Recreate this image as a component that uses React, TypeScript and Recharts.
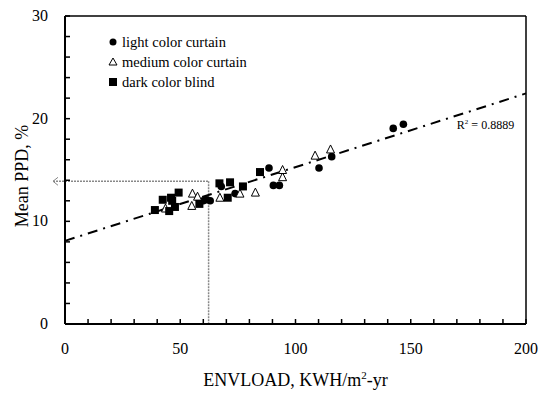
import {
  ScatterChart,
  Scatter,
  XAxis,
  YAxis,
  ReferenceLine,
  ReferenceDot,
  Legend,
} from "recharts";

// ENVLOAD (KWH/m2-yr) vs mean PPD (%)
const lightCurtain = [
  { x: 60.0, y: 12.0 },
  { x: 61.5, y: 12.1 },
  { x: 63.0, y: 12.0 },
  { x: 67.8, y: 13.4 },
  { x: 73.8, y: 12.7 },
  { x: 88.5, y: 15.2 },
  { x: 90.4, y: 13.5 },
  { x: 93.0, y: 13.5 },
  { x: 110.2, y: 15.2 },
  { x: 115.7, y: 16.3 },
  { x: 142.4, y: 19.05 },
  { x: 146.8, y: 19.45 },
];

const mediumCurtain = [
  { x: 43.6, y: 11.25 },
  { x: 55.0, y: 11.5 },
  { x: 55.3, y: 12.7 },
  { x: 57.5, y: 12.4 },
  { x: 67.2, y: 12.3 },
  { x: 75.9, y: 12.7 },
  { x: 82.6, y: 12.8 },
  { x: 94.4, y: 14.3 },
  { x: 94.4, y: 15.0 },
  { x: 108.5, y: 16.4 },
  { x: 115.2, y: 17.0 },
];

const darkBlind = [
  { x: 39.0, y: 11.1 },
  { x: 42.4, y: 12.1 },
  { x: 45.2, y: 11.0 },
  { x: 46.0, y: 12.3 },
  { x: 46.5, y: 12.0 },
  { x: 47.7, y: 11.4 },
  { x: 49.3, y: 12.8 },
  { x: 58.3, y: 11.7 },
  { x: 67.0, y: 13.7 },
  { x: 70.6, y: 12.3 },
  { x: 71.6, y: 13.8 },
  { x: 77.2, y: 13.4 },
  { x: 84.6, y: 14.8 },
];

const fitLine = [
  { x: 0, y: 8.1 },
  { x: 200, y: 22.46 },
];
const r2Value = "0.8889";

// dotted guide read-off
const guideX = 62.3;
const guideY = 13.9;

const xTicks = [0, 10, 20, 30, 40, 50, 60, 70, 80, 90, 100, 110, 120, 130, 140, 150, 160, 170, 180, 190, 200];
const yTicks = [0, 2, 4, 6, 8, 10, 12, 14, 16, 18, 20, 22, 24, 26, 28, 30];
const xLabels = [0, 50, 100, 150, 200];
const yLabels = [0, 10, 20, 30];

const seriesNames = ["light color curtain", "medium color curtain", "dark color blind"];

const FONT = "'Liberation Serif', 'Times New Roman', serif";

const Dot = (p: any) => <circle cx={p.cx} cy={p.cy} r={3.8} fill="#000" />;
const Box = (p: any) => (
  <rect x={p.cx - 4} y={p.cy - 4} width={8} height={8} fill="#000" />
);
const Tri = (p: any) => (
  <path
    d={`M${p.cx},${p.cy - 4.5}L${p.cx + 4},${p.cy + 3.5}L${p.cx - 4},${p.cy + 3.5}Z`}
    fill="#fff"
    stroke="#000"
    strokeWidth={1}
  />
);

const XTick = ({ x, y, payload }: any) => (
  <g>
    <line x1={x} y1={y} x2={x} y2={y - 5} stroke="#000" strokeWidth={1.5} />
    {xLabels.includes(payload.value) && (
      <text x={x} y={y + 30} textAnchor="middle" fontFamily={FONT} fontSize={16} fill="#000">
        {payload.value}
      </text>
    )}
  </g>
);

const YTick = ({ x, y, payload }: any) => (
  <g>
    <line x1={x} y1={y} x2={x + 5} y2={y} stroke="#000" strokeWidth={1.5} />
    {yLabels.includes(payload.value) && (
      <text x={x - 17} y={y + 5} textAnchor="end" fontFamily={FONT} fontSize={16} fill="#000">
        {payload.value}
      </text>
    )}
  </g>
);

const GuideH = (p: any) => (
  <g>
    <line x1={p.x1} y1={p.y1} x2={p.x2} y2={p.y2} stroke="#888" strokeWidth={1.5} strokeDasharray="2 1" />
    <path
      d={`M${p.x1 + 5},${p.y1 - 4}L${p.x1},${p.y1}L${p.x1 + 5},${p.y1 + 4}`}
      fill="none"
      stroke="#888"
      strokeWidth={1}
    />
  </g>
);

const LegendBox = () => (
  <div style={{ fontFamily: FONT, fontSize: 14.5, color: "#000", lineHeight: "20px" }}>
    {seriesNames.map((name, i) => (
      <div key={name} style={{ display: "flex", alignItems: "center", height: 20 }}>
        <svg width={12} height={12} style={{ marginRight: 3 }}>
          {i === 0 && <circle cx={6} cy={6} r={3.5} fill="#000" />}
          {i === 1 && <path d="M6,2L10,9L2,9Z" fill="#fff" stroke="#000" strokeWidth={1} />}
          {i === 2 && <rect x={2} y={2} width={8} height={8} fill="#000" />}
        </svg>
        {name}
      </div>
    ))}
  </div>
);

export default function App() {
  return (
    <div style={{ position: "absolute", left: 0, top: 0, background: "#fff" }}>
      <ScatterChart
        width={540}
        height={400}
        margin={{ top: 16, right: 14, bottom: 26, left: 0 }}
      >
        <XAxis
          type="number"
          dataKey="x"
          domain={[0, 200]}
          ticks={xTicks}
          interval={0}
          tickSize={0}
          tickMargin={0}
          tickLine={false}
          height={50}
          axisLine={{ stroke: "#000", strokeWidth: 2 }}
          tick={XTick}
          label={{
            content: ({ viewBox }: any) => (
              <text
                x={viewBox.x + viewBox.width / 2}
                y={386}
                textAnchor="middle"
                fontFamily={FONT}
                fontSize={18}
                fill="#000"
              >
                ENVLOAD, KWH/m
                <tspan dy={-7} fontSize={11}>2</tspan>
                <tspan dy={7}>-yr</tspan>
              </text>
            ),
          }}
        />
        <YAxis
          type="number"
          dataKey="y"
          domain={[0, 30]}
          ticks={yTicks}
          interval={0}
          tickSize={0}
          tickMargin={0}
          tickLine={false}
          width={65}
          axisLine={{ stroke: "#000", strokeWidth: 2 }}
          tick={YTick}
          label={{
            content: ({ viewBox }: any) => {
              const cy = viewBox.y + viewBox.height / 2 + 6;
              return (
                <text
                  x={28}
                  y={cy}
                  transform={`rotate(-90 28 ${cy})`}
                  textAnchor="middle"
                  fontFamily={FONT}
                  fontSize={18}
                  fill="#000"
                >
                  Mean PPD, %
                </text>
              );
            },
          }}
        />
        <ReferenceLine y={30} stroke="#000" strokeWidth={1.5} />
        <ReferenceLine x={200} stroke="#000" strokeWidth={1.5} />
        <ReferenceLine
          segment={[
            { x: -5.2, y: guideY },
            { x: guideX, y: guideY },
          ]}
          ifOverflow="visible"
          shape={GuideH}
        />
        <ReferenceLine
          segment={[
            { x: guideX, y: guideY },
            { x: guideX, y: 0 },
          ]}
          stroke="#888"
          strokeWidth={1.5}
          strokeDasharray="2 1"
        />
        <ReferenceLine
          segment={fitLine}
          stroke="#000"
          strokeWidth={2}
          strokeDasharray="10 6 2 6"
        />
        <ReferenceDot
          x={170}
          y={19.5}
          r={0}
          fill="none"
          stroke="none"
          label={{
            content: ({ viewBox }: any) => (
              <text x={viewBox.x} y={viewBox.y + 5} fontFamily={FONT} fontSize={12} fill="#000">
                R<tspan dy={-5} fontSize={7}>2</tspan>
                <tspan dy={5}> = {r2Value}</tspan>
              </text>
            ),
          }}
        />
        <Scatter name={seriesNames[0]} data={lightCurtain} shape={Dot} isAnimationActive={false} />
        <Scatter name={seriesNames[1]} data={mediumCurtain} shape={Tri} isAnimationActive={false} />
        <Scatter name={seriesNames[2]} data={darkBlind} shape={Box} isAnimationActive={false} />
        <Legend
          layout="vertical"
          align="center"
          verticalAlign="middle"
          content={LegendBox}
          wrapperStyle={{ left: 107, top: 32, width: "auto" }}
        />
      </ScatterChart>
    </div>
  );
}
